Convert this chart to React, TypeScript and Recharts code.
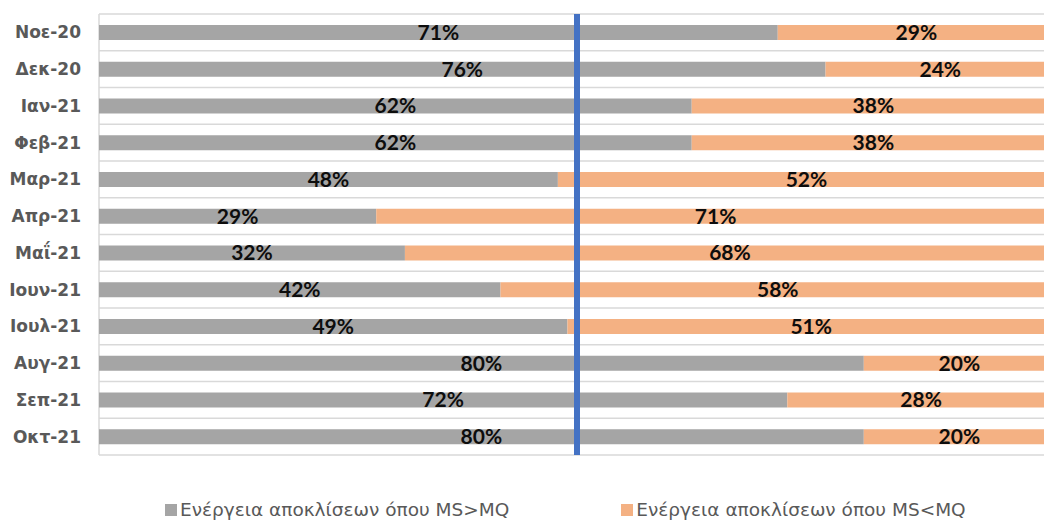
import {
  Bar,
  BarChart,
  CartesianGrid,
  LabelList,
  Legend,
  ReferenceLine,
  XAxis,
  YAxis,
} from 'recharts'

const months = [
  'Νοε-20',
  'Δεκ-20',
  'Ιαν-21',
  'Φεβ-21',
  'Μαρ-21',
  'Απρ-21',
  'Μαΐ-21',
  'Ιουν-21',
  'Ιουλ-21',
  'Αυγ-21',
  'Σεπ-21',
  'Οκτ-21',
]
const msAboveMq = [71, 76, 62, 62, 48, 29, 32, 42, 49, 80, 72, 80]
const msBelowMq = [29, 24, 38, 38, 52, 71, 68, 58, 51, 20, 28, 20]
const xTicks = [0, 10, 20, 30, 40, 50, 60, 70, 80, 90, 100]

const seriesNames = {
  above: 'Ενέργεια αποκλίσεων όπου MS>MQ',
  below: 'Ενέργεια αποκλίσεων όπου MS<MQ',
}
const legendOrder = [seriesNames.above, seriesNames.below]

const data = months.map((month, i) => ({
  month,
  above: msAboveMq[i],
  below: msBelowMq[i],
}))

const labelStyle = {
  fontFamily: 'Lato',
  fontWeight: 700,
  fontSize: 21,
  fill: '#0d0d0d',
}

function LegendContent({ payload }: any) {
  const items = [...(payload || [])].sort(
    (a: any, b: any) => legendOrder.indexOf(a.value) - legendOrder.indexOf(b.value)
  )
  return (
    <div
      style={{
        display: 'flex',
        height: 68,
        paddingTop: 42,
        boxSizing: 'border-box',
        fontFamily: 'DejaVu Sans',
        fontSize: 18.5,
        lineHeight: '22px',
        color: '#595959',
      }}
    >
      {items.map((item: any, i: number) => (
        <div
          key={item.value}
          style={{
            display: 'flex',
            alignItems: 'center',
            marginLeft: i === 0 ? 165 : 112,
          }}
        >
          <span
            style={{
              width: 12,
              height: 12,
              background: item.color,
              marginRight: 3,
              display: 'inline-block',
            }}
          />
          <span>{item.value}</span>
        </div>
      ))}
    </div>
  )
}

export default function App() {
  return (
    <div
      style={{
        position: 'fixed',
        left: 0,
        top: 0,
        width: 1044,
        height: 523,
        overflow: 'hidden',
        background: '#fff',
      }}
    >
      <BarChart
        width={1055}
        height={523}
        data={data}
        layout="vertical"
        margin={{ top: 14, right: 0, bottom: 0, left: 0 }}
        barSize={15}
      >
        <CartesianGrid
          stroke="#d9d9d9"
          strokeWidth={1.5}
          horizontalCoordinatesGenerator={({ offset }: any) =>
            Array.from(
              { length: months.length + 1 },
              (_, i) => offset.top + (i * offset.height) / months.length
            )
          }
        />
        <XAxis
          type="number"
          domain={[0, 100]}
          ticks={xTicks}
          tick={false}
          axisLine={false}
          tickLine={false}
          height={0}
        />
        <YAxis
          type="category"
          dataKey="month"
          width={99}
          axisLine={false}
          tickLine={false}
          tickSize={0}
          tickMargin={18}
          tick={{
            fontFamily: 'DejaVu Sans',
            fontWeight: 700,
            fontSize: 17,
            fill: '#595959',
          }}
        />
        <Legend height={68} content={<LegendContent />} />
        <Bar
          dataKey="above"
          name={seriesNames.above}
          stackId="a"
          fill="#a5a5a5"
          isAnimationActive={false}
        >
          <LabelList
            dataKey="above"
            position="center"
            formatter={(v: any) => `${v}%`}
            style={labelStyle}
          />
        </Bar>
        <Bar
          dataKey="below"
          name={seriesNames.below}
          stackId="a"
          fill="#f4b183"
          isAnimationActive={false}
        >
          <LabelList
            dataKey="below"
            position="center"
            formatter={(v: any) => `${v}%`}
            style={labelStyle}
          />
        </Bar>
        <ReferenceLine x={50} stroke="#4472c4" strokeWidth={6} />
      </BarChart>
    </div>
  )
}
